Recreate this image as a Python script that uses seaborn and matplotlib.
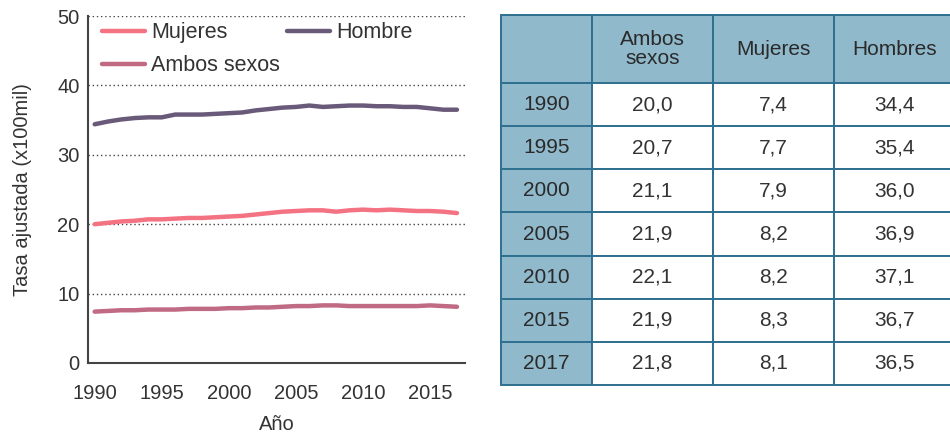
import pandas as pd
import seaborn as sns
import matplotlib.pyplot as plt

years = list(range(1990, 2018))
# values (legend labels kept as in the original)
mujeres = [20.0, 20.2, 20.4, 20.5, 20.7, 20.7, 20.8, 20.9, 20.9, 21.0, 21.1, 21.2, 21.4, 21.6,
           21.8, 21.9, 22.0, 22.0, 21.8, 22.0, 22.1, 22.0, 22.1, 22.0, 21.9, 21.9, 21.8, 21.6]
hombre = [34.4, 34.8, 35.1, 35.3, 35.4, 35.4, 35.8, 35.8, 35.8, 35.9, 36.0, 36.1, 36.4, 36.6,
          36.8, 36.9, 37.1, 36.9, 37.0, 37.1, 37.1, 37.0, 37.0, 36.9, 36.9, 36.7, 36.5, 36.5]
ambos = [7.4, 7.5, 7.6, 7.6, 7.7, 7.7, 7.7, 7.8, 7.8, 7.8, 7.9, 7.9, 8.0, 8.0,
         8.1, 8.2, 8.2, 8.3, 8.3, 8.2, 8.2, 8.2, 8.2, 8.2, 8.2, 8.3, 8.2, 8.1]

table_years = ["1990", "1995", "2000", "2005", "2010", "2015", "2017"]
table_ambos = ["20,0", "20,7", "21,1", "21,9", "22,1", "21,9", "21,8"]
table_mujeres = ["7,4", "7,7", "7,9", "8,2", "8,2", "8,3", "8,1"]
table_hombres = ["34,4", "35,4", "36,0", "36,9", "37,1", "36,7", "36,5"]
table_header = ["", "Ambos\nsexos", "Mujeres", "Hombres"]

palette = {"Mujeres": "#f47382", "Hombre": "#6a5a7a", "Ambos sexos": "#c06a84"}
txt = "#333333"

sns.set_style("white")
plt.rcParams["font.family"] = ["Liberation Sans", "DejaVu Sans"]

df = pd.DataFrame({
    "Año": years * 3,
    "valor": mujeres + hombre + ambos,
    "serie": ["Mujeres"] * len(years) + ["Hombre"] * len(years) + ["Ambos sexos"] * len(years),
})

fig = plt.figure(figsize=(9.5, 4.33), dpi=100)
ax = fig.add_axes([0.0926, 0.1617, 0.3969, 0.8013])

sns.lineplot(data=df, x="Año", y="valor", hue="serie", palette=palette,
             linewidth=3.2, legend=False, ax=ax)
for ln in ax.lines:
    ln.set_solid_capstyle("round")

ax.set_xlim(1989.5, 2017.6)
ax.set_ylim(0, 50)
ax.set_xticks([1990, 1995, 2000, 2005, 2010, 2015])
ax.set_yticks([0, 10, 20, 30, 40, 50])
ax.tick_params(axis="x", length=0, pad=15, labelsize=14.5, labelcolor=txt)
ax.tick_params(axis="y", length=0, pad=6, labelsize=14.5, labelcolor=txt)
ax.yaxis.grid(True, linestyle=(0, (1, 2)), color="#444444", linewidth=1)
ax.xaxis.grid(False)
for s in ["top", "right"]:
    ax.spines[s].set_visible(False)
for s in ["left", "bottom"]:
    ax.spines[s].set_color("#444444")
    ax.spines[s].set_linewidth(1.5)
ax.set_xlabel("Año", fontsize=14.5, color=txt, labelpad=9)
ax.set_ylabel("Tasa ajustada (x100mil)", fontsize=14.5, color=txt, labelpad=18)

lines = {l: ln for l, ln in zip(["Mujeres", "Hombre", "Ambos sexos"], ax.lines)}
order = ["Mujeres", "Ambos sexos", "Hombre"]
leg = ax.legend([lines[k] for k in order], order, ncol=2, loc="upper left",
                bbox_to_anchor=(0.02, 1.0), frameon=False, fontsize=15.5,
                handlelength=2.0, handletextpad=0.3, columnspacing=0.3,
                labelspacing=0.55, borderaxespad=0.0, borderpad=0.3)
for t in leg.get_texts():
    t.set_color(txt)

# table
tax = fig.add_axes([0.5274, 0.1109, 0.478, 0.8545])
tax.axis("off")
cells = [[y, a, m, h] for y, a, m, h in zip(table_years, table_ambos, table_mujeres, table_hombres)]
tbl = tax.table(cellText=cells, colLabels=table_header, cellLoc="center",
                colWidths=[91, 121, 121, 121], bbox=[0, 0, 1, 1])
tbl.auto_set_font_size(False)
row_h = 43.1
head_h = 68
for (r, c), cell in tbl.get_celld().items():
    cell.set_edgecolor("#2f6f8f")
    cell.set_linewidth(1.4)
    cell.get_text().set_fontsize(15)
    cell.get_text().set_color("#2a2a2a")
    cell.set_height(head_h if r == 0 else row_h)
    if r == 0 or c == 0:
        cell.set_facecolor("#90b9cb")
    else:
        cell.set_facecolor("white")
        cell.get_text().set_color(txt)
    if r == 0:
        cell.get_text().set_linespacing(1.05)

fig.savefig("out.png", dpi=100)
